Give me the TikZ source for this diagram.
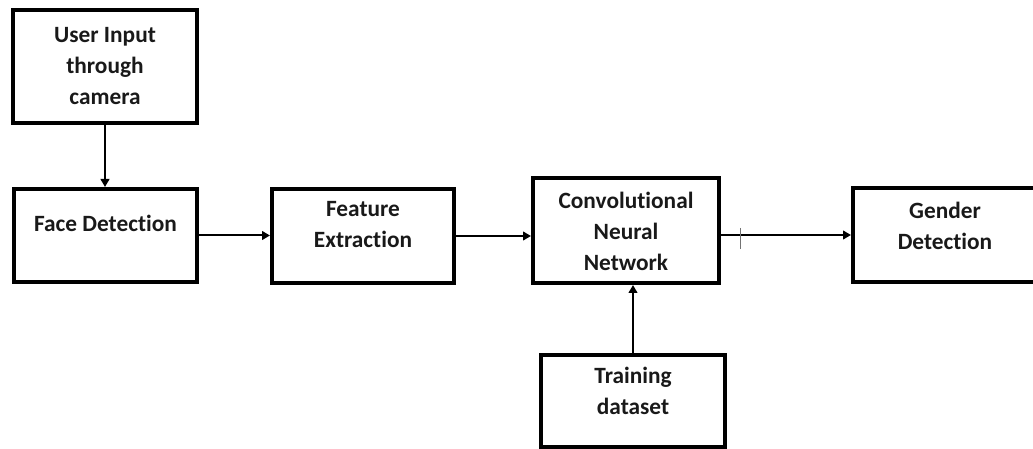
\documentclass[tikz,border=0pt]{standalone}
\usepackage{fontspec}
\setmainfont{Carlito}[Ligatures={NoCommon}]
\usetikzlibrary{arrows.meta,calc}

\tikzset{
  box/.style 2 args={draw=black, line width=3pt, inner sep=0pt,
    minimum width=#1*0.75pt, minimum height=#2*0.75pt},
  lbl/.style={font=\bfseries\fontsize{17.5}{23.25}\selectfont, align=center,
    inner sep=0pt, text=black!90},
  arr/.style={line width=1.5pt, -{Triangle[length=6pt,width=6.5pt]}},
}

\begin{document}
\begin{tikzpicture}[x=0.75pt, y=-0.75pt]
  \clip (0,0) rectangle (1033,449);
  \useasboundingbox (0,0) rectangle (1033,449);

  % blocks
  \node[box={184}{113}] (ui)  at (105,66.5)  {};
  \node[box={183}{93}]  (fd)  at (105.5,235.5) {};
  \node[box={182}{94}]  (fe)  at (363,236)   {};
  \node[box={186}{105}] (cnn) at (626,230.5) {};
  \node[box={184}{94}]  (gd)  at (945,235)   {};
  \node[box={184}{92}]  (td)  at (633,401)   {};

  % block captions
  \node[lbl] (uiT)  at (105,66)    {User Input\\through\\camera};
  \node[lbl] (fdT)  at (105.5,223) {Face Detection};
  \node[lbl] (feT)  at (363,225)   {Feature\\Extraction};
  \node[lbl] (cnnT) at (626,231)   {Convolutional\\Neural\\Network};
  \node[lbl] (gdT)  at (945,226)   {Gender\\Detection};
  \node[lbl] (tdT)  at (633,391)   {Training\\dataset};

  % flow
  \draw[arr] (ui.south) -- (ui.south |- fd.north);
  \draw[arr] (fd.east) -- (fd.east -| fe.west);
  \draw[arr] (fe.east) -- (fe.east -| cnn.west);
  \draw[arr] (gd.west -| cnn.east) -- (gd.west)
    coordinate[pos=0.15] (tk);
  \draw[arr] (td.north) -- (td.north |- cnn.south);

  % small tick on the output line
  \draw[line width=0.7pt, black!55] ([yshift=5.25pt]tk) -- ([yshift=-10.5pt]tk);
\end{tikzpicture}
\end{document}
